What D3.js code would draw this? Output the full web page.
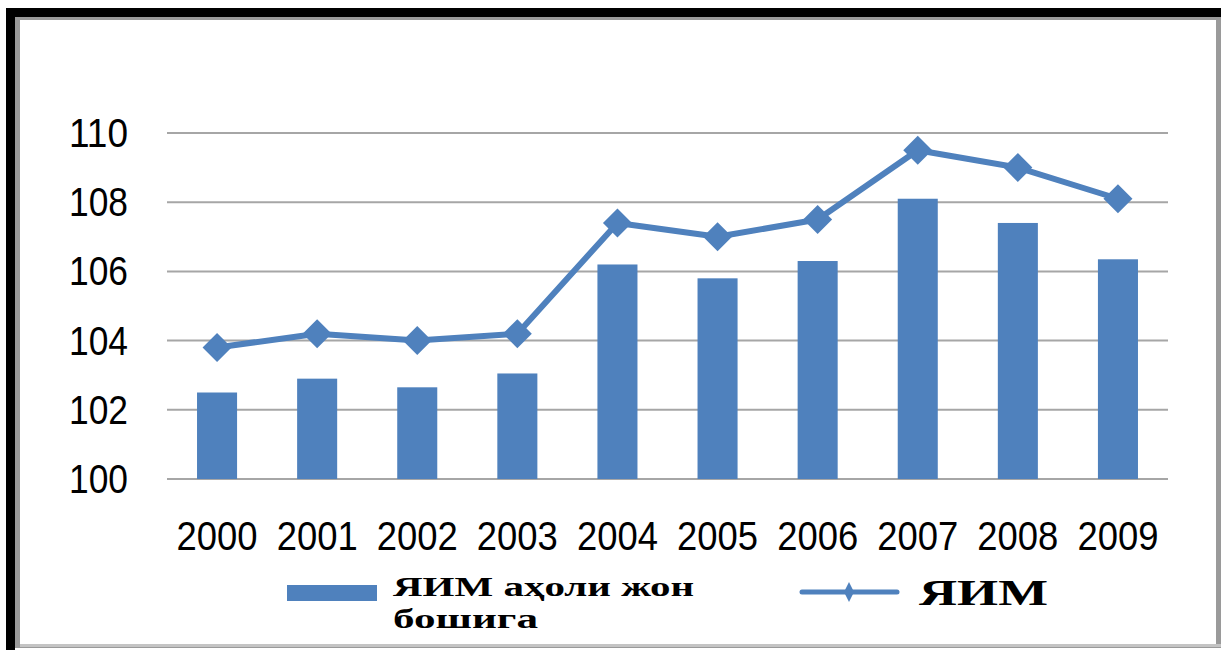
<!DOCTYPE html>
<html>
<head>
<meta charset="utf-8">
<script src="https://cdn.jsdelivr.net/npm/d3@7"></script>
<style>
  body { margin: 0; background: #fff; }
  svg { display: block; }
  .tick-label { font-family: "Liberation Sans", Arial, sans-serif; fill: #000; }
  .legend-label { font-family: "Liberation Serif", "Times New Roman", serif; font-weight: bold; fill: #000; }
</style>
</head>
<body>
<div class="chart"></div>
<script>
// data
var years = ["2000", "2001", "2002", "2003", "2004", "2005", "2006", "2007", "2008", "2009"];
var perCapita = [102.5, 102.9, 102.65, 103.05, 106.2, 105.8, 106.3, 108.1, 107.4, 106.35];
var gdp = [103.8, 104.2, 104.0, 104.2, 107.4, 107.0, 107.5, 109.5, 109.0, 108.1];
var yTicks = [100, 102, 104, 106, 108, 110];
var barName = ["ЯИМ аҳоли жон", "бошига"];
var lineName = "ЯИМ";

var width = 1221;
var height = 650;
var blue = "#4f81bd";

var svg = d3.select(".chart")
    .append("svg")
    .attr("width", width)
    .attr("height", height);

// frame: black on top and left, gray on the right and bottom
svg.append("rect").attr("x", 6).attr("y", 8).attr("width", width - 6).attr("height", height - 8).attr("fill", "#000");
svg.append("rect").attr("x", 15).attr("y", 17).attr("width", width - 15).attr("height", 631).attr("fill", "#9a9a9a");
svg.append("rect").attr("x", 20).attr("y", 20).attr("width", 1196).attr("height", 624).attr("fill", "#fff");
svg.append("rect").attr("x", 15).attr("y", 648).attr("width", width - 15).attr("height", 2).attr("fill", "#fff");
svg.append("rect").attr("x", 20).attr("y", 644).attr("width", 1201).attr("height", 3).attr("fill", "#c4c4c4");

var x = d3.scaleBand()
    .domain(years)
    .range([167, 1168])
    .paddingInner(0.6)
    .paddingOuter(0.3);

var y = d3.scaleLinear()
    .domain([100, 110])
    .range([479, 133]);

// gridlines
svg.append("g")
    .selectAll("line")
    .data(yTicks)
    .enter()
    .append("line")
    .attr("x1", 167)
    .attr("x2", 1168)
    .attr("y1", function (d) { return y(d); })
    .attr("y2", function (d) { return y(d); })
    .attr("stroke", "#a6a6a6")
    .attr("stroke-width", 2);

// y tick labels
svg.append("g")
    .selectAll("text")
    .data(yTicks)
    .enter()
    .append("text")
    .attr("class", "tick-label")
    .attr("x", 128)
    .attr("y", function (d) { return y(d) + 14; })
    .attr("text-anchor", "end")
    .attr("font-size", 40)
    .attr("textLength", 59)
    .attr("lengthAdjust", "spacingAndGlyphs")
    .text(function (d) { return d; });

// x tick labels
svg.append("g")
    .selectAll("text")
    .data(years)
    .enter()
    .append("text")
    .attr("class", "tick-label")
    .attr("x", function (d) { return x(d) + x.bandwidth() / 2; })
    .attr("y", 550)
    .attr("text-anchor", "middle")
    .attr("font-size", 40)
    .attr("textLength", 81)
    .attr("lengthAdjust", "spacingAndGlyphs")
    .text(function (d) { return d; });

// bars
svg.append("g")
    .selectAll("rect")
    .data(perCapita)
    .enter()
    .append("rect")
    .attr("x", function (d, i) { return x(years[i]); })
    .attr("y", function (d) { return y(d); })
    .attr("width", x.bandwidth())
    .attr("height", function (d) { return y(100) - y(d); })
    .attr("fill", blue);

// line with diamond markers
var line = d3.line()
    .x(function (d, i) { return x(years[i]) + x.bandwidth() / 2; })
    .y(function (d) { return y(d); });

svg.append("path")
    .datum(gdp)
    .attr("d", line)
    .attr("fill", "none")
    .attr("stroke", blue)
    .attr("stroke-width", 6)
    .attr("stroke-linejoin", "round");

var diamond = d3.symbol().type(d3.symbolSquare).size(420);

svg.append("g")
    .selectAll("path")
    .data(gdp)
    .enter()
    .append("path")
    .attr("d", diamond)
    .attr("fill", blue)
    .attr("transform", function (d, i) {
        return "translate(" + (x(years[i]) + x.bandwidth() / 2) + "," + y(d) + ") rotate(45)";
    });

// legend
var legend = svg.append("g");

legend.append("rect")
    .attr("x", 287)
    .attr("y", 585)
    .attr("width", 90)
    .attr("height", 16)
    .attr("fill", blue);

legend.append("text")
    .attr("class", "legend-label")
    .attr("x", 393)
    .attr("y", 596)
    .attr("font-size", 27)
    .attr("textLength", 301)
    .attr("lengthAdjust", "spacingAndGlyphs")
    .text(barName[0]);

legend.append("text")
    .attr("class", "legend-label")
    .attr("x", 393)
    .attr("y", 628)
    .attr("font-size", 27)
    .attr("textLength", 145)
    .attr("lengthAdjust", "spacingAndGlyphs")
    .text(barName[1]);

legend.append("line")
    .attr("x1", 802)
    .attr("x2", 897)
    .attr("y1", 592)
    .attr("y2", 592)
    .attr("stroke", blue)
    .attr("stroke-width", 5)
    .attr("stroke-linecap", "round");

legend.append("path")
    .attr("d", "M849,582 L854,592 L849,602 L844,592 Z")
    .attr("fill", blue);

legend.append("text")
    .attr("class", "legend-label")
    .attr("x", 919)
    .attr("y", 605)
    .attr("font-size", 35)
    .attr("textLength", 129)
    .attr("lengthAdjust", "spacingAndGlyphs")
    .text(lineName);
</script>
</body>
</html>
